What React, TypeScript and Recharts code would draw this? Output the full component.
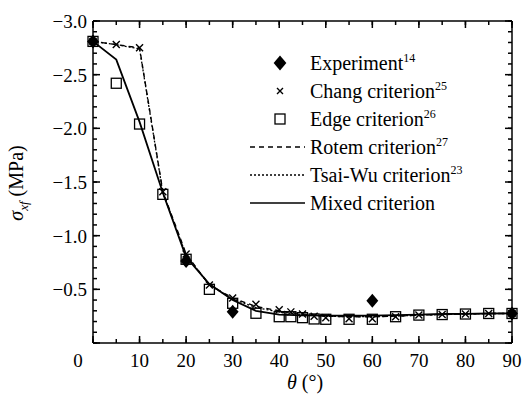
import React from 'react';
import { ComposedChart, Line, XAxis, YAxis } from 'recharts';

// ---------- data ----------
const experiment = [
  { t: 0, v: -2.81 }, { t: 20, v: -0.765 }, { t: 30, v: -0.29 }, { t: 60, v: -0.394 }, { t: 90, v: -0.275 },
];
const chang = [
  { t: 0, v: -2.81 }, { t: 5, v: -2.78 }, { t: 10, v: -2.75 }, { t: 15, v: -1.41 }, { t: 20, v: -0.83 },
  { t: 25, v: -0.54 }, { t: 30, v: -0.42 }, { t: 35, v: -0.36 }, { t: 40, v: -0.31 }, { t: 42.5, v: -0.29 },
  { t: 45, v: -0.27 }, { t: 47.5, v: -0.25 }, { t: 50, v: -0.235 }, { t: 55, v: -0.225 }, { t: 60, v: -0.225 },
  { t: 65, v: -0.245 }, { t: 70, v: -0.26 }, { t: 75, v: -0.265 }, { t: 80, v: -0.27 }, { t: 85, v: -0.275 },
  { t: 90, v: -0.275 },
];
const edge = [
  { t: 0, v: -2.81 }, { t: 5, v: -2.42 }, { t: 10, v: -2.04 }, { t: 15, v: -1.385 }, { t: 20, v: -0.78 },
  { t: 25, v: -0.5 }, { t: 30, v: -0.37 }, { t: 35, v: -0.277 }, { t: 40, v: -0.245 }, { t: 42.5, v: -0.245 },
  { t: 45, v: -0.236 }, { t: 47.5, v: -0.224 }, { t: 50, v: -0.221 }, { t: 55, v: -0.221 }, { t: 60, v: -0.221 },
  { t: 65, v: -0.245 }, { t: 70, v: -0.26 }, { t: 75, v: -0.265 }, { t: 80, v: -0.27 }, { t: 85, v: -0.275 },
  { t: 90, v: -0.275 },
];
const rotem = [
  { t: 0, v: -2.81 }, { t: 5, v: -2.78 }, { t: 10, v: -2.75 }, { t: 15, v: -1.41 }, { t: 20, v: -0.83 },
  { t: 25, v: -0.54 }, { t: 30, v: -0.42 }, { t: 35, v: -0.34 }, { t: 40, v: -0.3 }, { t: 45, v: -0.27 },
  { t: 50, v: -0.25 }, { t: 55, v: -0.245 }, { t: 60, v: -0.245 }, { t: 65, v: -0.25 }, { t: 70, v: -0.26 },
  { t: 75, v: -0.265 }, { t: 80, v: -0.27 }, { t: 85, v: -0.275 }, { t: 90, v: -0.275 },
];
const tsaiWu = [
  { t: 0, v: -2.81 }, { t: 5, v: -2.78 }, { t: 10, v: -2.74 }, { t: 15, v: -1.4 }, { t: 20, v: -0.82 },
  { t: 25, v: -0.54 }, { t: 30, v: -0.41 }, { t: 35, v: -0.33 }, { t: 40, v: -0.29 }, { t: 45, v: -0.265 },
  { t: 50, v: -0.25 }, { t: 55, v: -0.245 }, { t: 60, v: -0.245 }, { t: 65, v: -0.25 }, { t: 70, v: -0.26 },
  { t: 75, v: -0.265 }, { t: 80, v: -0.27 }, { t: 85, v: -0.275 }, { t: 90, v: -0.275 },
];
const mixed = [
  { t: 0, v: -2.81 }, { t: 5, v: -2.64 }, { t: 10, v: -2.06 }, { t: 15, v: -1.4 }, { t: 20, v: -0.8 },
  { t: 25, v: -0.55 }, { t: 30, v: -0.4 }, { t: 35, v: -0.3 }, { t: 40, v: -0.265 }, { t: 45, v: -0.258 },
  { t: 50, v: -0.255 }, { t: 55, v: -0.255 }, { t: 60, v: -0.255 }, { t: 65, v: -0.26 }, { t: 70, v: -0.265 },
  { t: 75, v: -0.27 }, { t: 80, v: -0.272 }, { t: 85, v: -0.275 }, { t: 90, v: -0.277 },
];

const thetaTicks = [0, 5, 10, 15, 20, 25, 30, 35, 40, 45, 50, 55, 60, 65, 70, 75, 80, 85, 90];
const sigmaTicks = [
  -3.0, -2.9, -2.8, -2.7, -2.6, -2.5, -2.4, -2.3, -2.2, -2.1, -2.0, -1.9, -1.8, -1.7, -1.6, -1.5,
  -1.4, -1.3, -1.2, -1.1, -1.0, -0.9, -0.8, -0.7, -0.6, -0.5, -0.4, -0.3, -0.2, -0.1, 0,
];

const legendItems = [
  { label: 'Experiment', sup: '14', kind: 'diamond' },
  { label: 'Chang criterion', sup: '25', kind: 'cross' },
  { label: 'Edge criterion', sup: '26', kind: 'square' },
  { label: 'Rotem criterion', sup: '27', kind: 'dash' },
  { label: 'Tsai-Wu criterion', sup: '23', kind: 'dot' },
  { label: 'Mixed criterion', sup: '', kind: 'solid' },
];

// ---------- styles ----------
const FONT = 'Liberation Serif';
const INK = '#000';
const MINOR = 4; // built-in inward tick length
const TW = 1.5;

const isMajorX = (v: number) => Math.abs(v / 10 - Math.round(v / 10)) < 1e-6;
const isMajorY = (v: number) => Math.abs(v * 2 - Math.round(v * 2)) < 1e-6;
const fmtY = (v: number) => (v < 0 ? '\u2212' : '') + Math.abs(v).toFixed(1);

// tick props x/y arrive at the inner end of the built-in (inward) tick line
const BottomTick = (p: any) => {
  const x = Number(p.x);
  const y = Number(p.y) + MINOR; // axis line
  const v = p.payload.value;
  const major = isMajorX(v);
  return (
    <g>
      {major && <rect x={x - TW / 2} y={y - 7} width={TW} height={7} fill={INK} />}
      {major && (
        <text x={v === 0 ? x - 15 : x} y={y + 24} textAnchor="middle" fontFamily={FONT} fontSize={19} fill={INK}>
          {v}
        </text>
      )}
    </g>
  );
};
const TopTick = (p: any) => {
  const x = Number(p.x);
  const y = Number(p.y) - MINOR;
  return isMajorX(p.payload.value) ? <rect x={x - TW / 2} y={y} width={TW} height={7} fill={INK} /> : <g />;
};
const LeftTick = (p: any) => {
  const x = Number(p.x) - MINOR;
  const y = Number(p.y);
  const v = p.payload.value;
  const major = isMajorY(v);
  return (
    <g>
      {major && <rect x={x} y={y - TW / 2} width={7} height={TW} fill={INK} />}
      {major && v !== 0 && (
        <text x={x - 6} y={y + 7} textAnchor="end" fontFamily={FONT} fontSize={19} fill={INK}>
          {fmtY(v)}
        </text>
      )}
    </g>
  );
};
const RightTick = (p: any) => {
  const x = Number(p.x) + MINOR;
  const y = Number(p.y);
  return isMajorY(p.payload.value) ? <rect x={x - 7} y={y - TW / 2} width={7} height={TW} fill={INK} /> : <g />;
};

const Diamond = ({ cx, cy, r = 7 }: any) => (
  <path d={`M${cx},${cy - r} L${cx + r * 0.85},${cy} L${cx},${cy + r} L${cx - r * 0.85},${cy} Z`} fill={INK} />
);
const Cross = ({ cx, cy, r = 3.5 }: any) => (
  <path d={`M${cx - r},${cy - r} L${cx + r},${cy + r} M${cx - r},${cy + r} L${cx + r},${cy - r}`} stroke={INK} strokeWidth={1.4} fill="none" />
);
const Square = ({ cx, cy, r = 5 }: any) => (
  <rect x={cx - r} y={cy - r} width={2 * r} height={2 * r} fill="none" stroke={INK} strokeWidth={1.3} />
);

const markerDot = (Shape: any) => (p: any) => {
  if (p.cx == null || p.cy == null) return <g key={p.key} />;
  return <Shape key={p.key} cx={p.cx} cy={p.cy} />;
};

const Legend = () => {
  const y0 = 63;
  const step = 28;
  return (
    <svg width={523} height={404} style={{ position: 'absolute', left: 0, top: 0, pointerEvents: 'none' }}>
      {legendItems.map((it, i) => {
        const cy = y0 + i * step;
        let mark: any = null;
        if (it.kind === 'diamond') mark = <Diamond cx={280} cy={cy} r={7.5} />;
        if (it.kind === 'cross') mark = <Cross cx={280} cy={cy} r={3} />;
        if (it.kind === 'square') mark = <Square cx={280} cy={cy} r={5} />;
        if (it.kind === 'dash') mark = <line x1={250} x2={305} y1={cy} y2={cy} stroke={INK} strokeWidth={1.3} strokeDasharray="5 4" />;
        if (it.kind === 'dot') mark = <line x1={250} x2={305} y1={cy} y2={cy} stroke={INK} strokeWidth={1.3} strokeDasharray="2 2" />;
        if (it.kind === 'solid') mark = <line x1={250} x2={305} y1={cy} y2={cy} stroke={INK} strokeWidth={1.6} />;
        return (
          <g key={it.label}>
            {mark}
            <text x={310} y={cy + 7} fontFamily={FONT} fontSize={20} fill={INK}>
              {it.label}
              {it.sup && (
                <tspan dy={-8} fontSize={12}>
                  {it.sup}
                </tspan>
              )}
            </text>
          </g>
        );
      })}
      <text x={305} y={389} textAnchor="middle" fontFamily={FONT} fontSize={20} fill={INK}>
        <tspan fontStyle="italic">θ</tspan>
        <tspan> (°)</tspan>
      </text>
      <text x={23} y={183} transform="rotate(-90, 23, 183)" textAnchor="middle" fontFamily={FONT} fontSize={20} fill={INK}>
        <tspan fontStyle="italic">σ</tspan>
        <tspan fontStyle="italic" fontSize={13} dy={5}>xf</tspan>
        <tspan dy={-5}> (MPa)</tspan>
      </text>
    </svg>
  );
};

const tickLineStyle = { stroke: INK, strokeWidth: 1.5 };
const axisLineStyle = { stroke: INK, strokeWidth: 1.5 };

export default function App() {
  return (
    <div style={{ position: 'absolute', left: 0, top: 0, width: 523, height: 404, background: '#fff' }}>
      <ComposedChart width={523} height={404} margin={{ top: 20, right: 10, bottom: 0, left: 0 }}>
        <XAxis
          xAxisId="b" dataKey="t" type="number" domain={[0, 90]} ticks={thetaTicks} interval={0}
          height={61} tickSize={-MINOR} tickMargin={0} tick={<BottomTick />} tickLine={tickLineStyle}
          axisLine={axisLineStyle}
        />
        <XAxis
          xAxisId="top" dataKey="t" orientation="top" type="number" domain={[0, 90]} ticks={thetaTicks} interval={0}
          height={1} tickSize={-MINOR} tickMargin={0} tick={<TopTick />} tickLine={tickLineStyle}
          axisLine={axisLineStyle}
        />
        <YAxis
          yAxisId="l" dataKey="v" type="number" domain={[-3, 0]} reversed ticks={sigmaTicks} interval={0}
          width={93} tickSize={-MINOR} tickMargin={0} tick={<LeftTick />} tickLine={tickLineStyle}
          axisLine={axisLineStyle}
        />
        <YAxis
          yAxisId="r" dataKey="v" orientation="right" type="number" domain={[-3, 0]} reversed ticks={sigmaTicks} interval={0}
          width={1} tickSize={-MINOR} tickMargin={0} tick={<RightTick />} tickLine={tickLineStyle}
          axisLine={axisLineStyle}
        />
        <Line xAxisId="top" yAxisId="r" data={mixed} dataKey="v" stroke="none" dot={false} activeDot={false} isAnimationActive={false} />
        <Line xAxisId="b" yAxisId="l" data={mixed} dataKey="v" type="linear" stroke={INK} strokeWidth={1.8} dot={false} activeDot={false} isAnimationActive={false} />
        <Line xAxisId="b" yAxisId="l" data={rotem} dataKey="v" type="linear" stroke={INK} strokeWidth={1.4} strokeDasharray="5 4" dot={false} activeDot={false} isAnimationActive={false} />
        <Line xAxisId="b" yAxisId="l" data={tsaiWu} dataKey="v" type="linear" stroke={INK} strokeWidth={1.3} strokeDasharray="2 2" dot={false} activeDot={false} isAnimationActive={false} />
        <Line xAxisId="b" yAxisId="l" data={edge} dataKey="v" stroke="none" dot={markerDot(Square)} activeDot={false} isAnimationActive={false} />
        <Line xAxisId="b" yAxisId="l" data={chang} dataKey="v" stroke="none" dot={markerDot(Cross)} activeDot={false} isAnimationActive={false} />
        <Line xAxisId="b" yAxisId="l" data={experiment} dataKey="v" stroke="none" dot={markerDot(Diamond)} activeDot={false} isAnimationActive={false} />
      </ComposedChart>
      <Legend />
    </div>
  );
}
